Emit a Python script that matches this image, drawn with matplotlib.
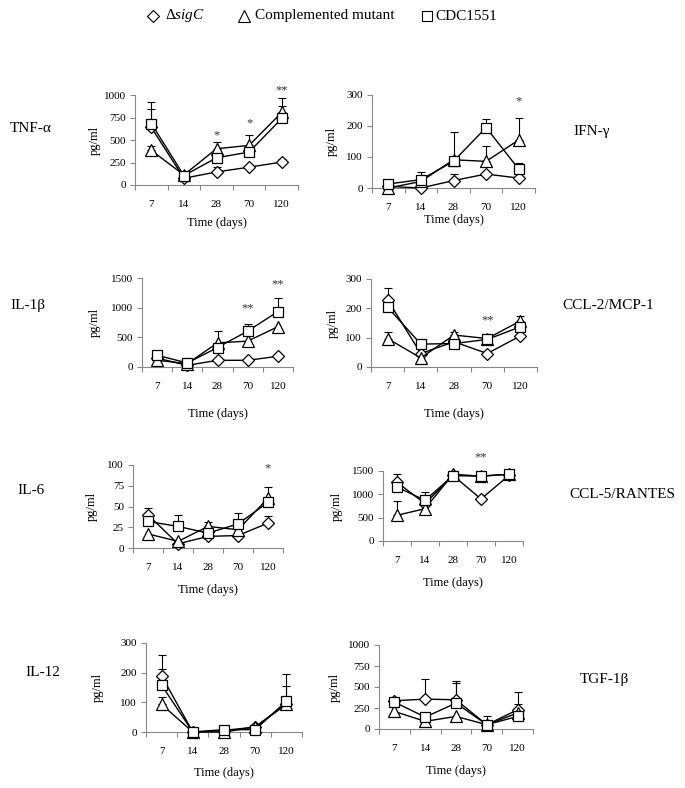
"""Cytokine levels over time for three strains, 4x2 grid of small line charts."""

import numpy as np
import matplotlib.pyplot as plt
from matplotlib.lines import Line2D

plt.rcParams["font.family"] = ["Liberation Serif", "DejaVu Serif"]
plt.rcParams["mathtext.fontset"] = "custom"
plt.rcParams["mathtext.rm"] = "Liberation Serif"
plt.rcParams["mathtext.it"] = "Liberation Serif:italic"

days = ["7", "14", "28", "70", "120"]
strain_labels = [r"Δ$\it{sigC}$", "Complemented mutant", "CDC1551"]
cytokines = ["TNF-α", "IFN-γ", "IL-1β", "CCL-2/MCP-1",
             "IL-6", "CCL-5/RANTES", "IL-12", "TGF-1β"]

# means per strain (ΔsigC, complemented, CDC1551), pg/ml
tnf_sigc = [640, 75, 145, 198, 255]
tnf_comp = [385, 112, 403, 440, 806]
tnf_cdc = [683, 105, 302, 366, 739]
ifn_sigc = [5, 0, 24, 45, 32]
ifn_comp = [0, 21, 91, 86, 155]
ifn_cdc = [13, 27, 86, 195, 61]
il1_sigc = [150, 28, 113, 113, 181]
il1_comp = [113, 57, 407, 436, 679]
il1_cdc = [198, 68, 328, 605, 934]
ccl2_sigc = [229, 46, 86, 46, 106]
ccl2_comp = [97, 31, 109, 97, 157]
ccl2_cdc = [204, 78, 80, 94, 137]
il6_sigc = [40, 5, 14, 15, 30]
il6_comp = [17, 8, 26, 22, 60]
il6_cdc = [32, 26, 18, 29, 55]
ccl5_sigc = [1260, 800, 1407, 900, 1407]
ccl5_comp = [550, 693, 1430, 1390, 1430]
ccl5_cdc = [1157, 871, 1400, 1390, 1430]
il12_sigc = [189, 0, 5, 17, 96]
il12_comp = [93, 0, 0, 17, 93]
il12_cdc = [158, 0, 8, 8, 104]
tgf_sigc = [336, 356, 348, 51, 229]
tgf_comp = [209, 91, 150, 51, 190]
tgf_cdc = [320, 142, 308, 51, 150]

# upper error bars (0 = none visible)
tnf_err = [[200, 0, 60, 0, 35], [45, 0, 77, 120, 164], [237, 0, 0, 0, 141]]
ifn_err = [[0, 0, 21, 0, 0], [0, 0, 0, 49, 71], [8, 26, 94, 27, 19]]
il1_err = [[0, 0, 0, 0, 0], [0, 0, 193, 0, 0], [30, 0, 0, 115, 226]]
ccl2_err = [[39, 0, 0, 0, 0], [21, 0, 12, 0, 16], [0, 0, 0, 8, 0]]
il6_err = [[8, 0, 0, 0, 9], [0, 0, 5, 0, 14], [0, 14, 0, 13, 0]]
ccl5_err = [[183, 0, 0, 0, 0], [300, 0, 60, 0, 0], [0, 179, 0, 0, 0]]
il12_err = [[71, 0, 0, 0, 60], [25, 0, 0, 0, 0], [54, 0, 12, 0, 93]]
tgf_err = [[0, 244, 222, 0, 211], [0, 0, 0, 0, 110], [40, 0, 242, 104, 0]]

y_max = [1000, 300, 1500, 300, 100, 1500, 300, 1000]
y_step = [250, 100, 500, 100, 25, 500, 100, 250]

# significance marks: (day index, text, y)
stars = [
    [(2, "*", 550), (3, "*", 680), (4, "**", 1055)],
    [(4, "*", 279)],
    [(3, "**", 990), (4, "**", 1387)],
    [(3, "**", 160)],
    [(4, "*", 96)],
    [(3, "**", 1800)],
    [],
    [],
]

means = [
    (tnf_sigc, tnf_comp, tnf_cdc), (ifn_sigc, ifn_comp, ifn_cdc),
    (il1_sigc, il1_comp, il1_cdc), (ccl2_sigc, ccl2_comp, ccl2_cdc),
    (il6_sigc, il6_comp, il6_cdc), (ccl5_sigc, ccl5_comp, ccl5_cdc),
    (il12_sigc, il12_comp, il12_cdc), (tgf_sigc, tgf_comp, tgf_cdc),
]
errors = [tnf_err, ifn_err, il1_err, ccl2_err, il6_err, ccl5_err, il12_err, tgf_err]

W, H = 685, 788
# axes boxes in pixels: left, right, top, bottom
boxes = [
    (135, 298, 95, 185), (372, 535, 95, 188),
    (142, 293, 278, 367), (371, 537, 279, 367),
    (133, 283, 465, 548), (383, 523, 471, 541),
    (146, 302, 643, 732), (379, 533, 645, 729),
]
# cytokine name position (left x, centre y) in pixels
name_pos = [(10, 128), (573, 132), (10, 305), (562, 305),
            (17, 490), (569, 494), (25, 672), (580, 679)]
# centres of the axis labels in pixels
ylabel_x = [95, 332, 95, 333, 92, 337, 98, 335]
xlabel_y = [223, 220, 414, 414, 590, 583, 773, 771]

# legend items: marker centre x, text left x (pixels), shared centre y
legend_marker_x = [153, 244, 427]
legend_text_x = [165, 255, 435]
legend_y = 16

markers = [("D", 6.0), ("^", 8.5), ("s", 7.5)]

fig = plt.figure(figsize=(W / 100, H / 100), dpi=100)

for k in range(8):
    l, r, t, b = boxes[k]
    ax = fig.add_axes([l / W, 1 - b / H, (r - l) / W, (b - t) / H])
    x = np.arange(len(days))
    for s in range(3):
        m = np.array(means[k][s], float)
        e = np.array(errors[k][s], float)
        sel = e > 0
        if sel.any():
            ax.errorbar(x[sel], m[sel], yerr=[np.zeros(sel.sum()), e[sel]],
                        fmt="none", ecolor="black", elinewidth=0.8,
                        capsize=3, capthick=0.8, zorder=2, clip_on=False)
        mk, ms = markers[s]
        ax.plot(x, m, color="black", lw=1.0, marker=mk, ms=ms,
                mfc="white", mec="black", mew=0.9, zorder=3 + s, clip_on=False)
    for i, txt, yv in stars[k]:
        ax.text(i, yv, txt, ha="center", va="center", fontsize=9,
                color="#333333", clip_on=False)

    ax.set_xlim(-0.5, len(days) - 0.5)
    ax.set_ylim(0, y_max[k])
    ax.set_yticks(np.arange(0, y_max[k] + 1, y_step[k]))
    ax.set_xticks(x, days)
    ax.set_xticks(np.arange(-0.5, len(days)), minor=True)
    ax.tick_params(axis="x", which="major", length=0, pad=11, labelsize=8)
    ax.tick_params(axis="x", which="minor", length=3.5, color="#888888", width=0.8)
    ax.tick_params(axis="y", length=3.5, color="#888888", width=0.8,
                   pad=3, labelsize=8)
    for side in ("top", "right"):
        ax.spines[side].set_visible(False)
    for side in ("left", "bottom"):
        ax.spines[side].set_color("#888888")
        ax.spines[side].set_linewidth(0.8)

    # label anchors sit on the label edge, so shift by about half its height
    ax.set_ylabel("pg/ml", fontsize=9)
    ax.yaxis.set_label_coords((ylabel_x[k] + 6 - l) / (r - l), 0.5)
    ax.set_xlabel("Time (days)", fontsize=9)
    ax.xaxis.set_label_coords(0.5, (b - xlabel_y[k] + 6) / (b - t))

    nx, ny = name_pos[k]
    fig.text(nx / W, 1 - ny / H, cytokines[k], fontsize=11,
             ha="left", va="center")

# legend row drawn by hand so the uneven spacing matches
for (mk, ms), mx, tx, lab in zip(markers, legend_marker_x, legend_text_x,
                                 strain_labels):
    fig.add_artist(Line2D([mx / W], [1 - legend_y / H], ls="none", marker=mk,
                          ms=ms, mfc="white", mec="black", mew=0.8,
                          transform=fig.transFigure))
    fig.text(tx / W, 1 - legend_y / H, lab, fontsize=11, ha="left", va="center")

fig.savefig("out.png", dpi=100)
